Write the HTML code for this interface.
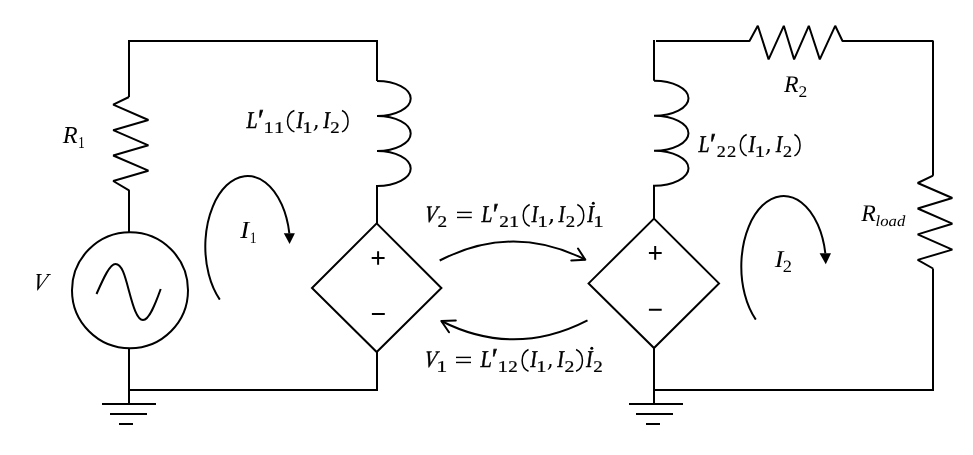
<!DOCTYPE html>
<html><head><meta charset="utf-8">
<style>
html,body{margin:0;padding:0;background:#fff;width:973px;height:455px;overflow:hidden}
svg{display:block;will-change:transform}
text{font-family:"Liberation Serif",serif;font-style:italic;fill:#000;text-rendering:geometricPrecision}
text.n{font-style:normal}
</style></head>
<body>
<svg width="973" height="455" viewBox="0 0 973 455" xmlns="http://www.w3.org/2000/svg">
<rect x="0" y="0" width="973" height="455" fill="#fff"/>
<g fill="none" stroke="#000" stroke-width="2" stroke-linejoin="miter">
<path d="M129,97 V41 H377 V81"/>
<path stroke-linejoin="bevel" d="M129,97 L113.2,104.7 L148.4,120 L113.2,130.2 L148.4,145.3 L113.2,155.5 L148.4,170.7 L113.2,181 L129,190.4 V232.3"/>
<circle cx="130" cy="290.3" r="58"/>
<path d="M129,348 V404"/>
<path d="M129,390 H377 V352"/>
<path d="M102,404 H156 M110,414 H147 M119,424 H133"/>
<path d="M377,81 A33.7,17.5 0 0 1 377,116 A33.7,17.5 0 0 1 377,151 A33.7,17.5 0 0 1 377,186 V223.4"/>
<path d="M376.7,223.4 L441.4,288 L376.7,352 L312,288 Z"/>
<path d="M371.7,258 H384.6 M378.1,251.2 V264.8 M371.9,314 H384.8"/>
<path d="M96.5,294 C104,277 110,264 115.5,264 C122,264 125,276 129,291 C133,306 137,320 143,320 C149,320 155,305 160.7,289"/>
<path d="M654,40 V80.8"/>
<path d="M654,80.8 A34.5,17.5 0 0 1 654,115.8 A34.5,17.5 0 0 1 654,150.8 A34.5,17.5 0 0 1 654,185.8 V218.6"/>
<path d="M654,218.6 L719,283.4 L654,348 L588.6,283.4 Z"/>
<path d="M654,348 V404 M654,390 H933 V268.5"/>
<path d="M629,404 H683 M636,414 H673 M646,424 H660"/>
<path stroke-linejoin="bevel" d="M656,41 H749.5 L757.8,25.8 L768.6,59.4 L783.8,25.8 L794.1,59.4 L808.8,25.8 L819.8,59.4 L835.2,25.8 L842.5,41 H933 V175.7"/>
<path stroke-linejoin="bevel" d="M933,175.7 L917.7,183 L952.3,198 L917.7,208.5 L952.3,223.7 L917.7,234.4 L952.3,249.6 L917.7,259.9 L933,268.5"/>
<path d="M648.9,253 H661.7 M655.2,246 V259.8 M648.9,309.7 H661.7"/>
<path d="M439.7,260.5 Q512.6,223 585.4,259.7"/>
<path stroke-linejoin="round" stroke-linecap="round" d="M578,248.5 L585.3,259.7 L571.3,260.4"/>
<path d="M587.5,320.3 Q514,358 441.3,321"/>
<path stroke-linejoin="round" stroke-linecap="round" d="M455.8,320.5 L441.3,321 L449,332.3"/>
<path d="M219.8,299.587 A42.4,70.5 0 1 1 289.350,233.3"/>
<path d="M755.8,319.587 A42.4,70.5 0 1 1 825.350,253.3"/>
</g>
<g fill="#000" stroke="none">
<path d="M283.8,233.3 L294.9,233.3 L289.6,243.9 Z"/>
<path d="M819.6,253.3 L831,253.3 L825.8,264.3 Z"/>
<text transform="matrix(0.9713 0 0.0000 0.9713 62.63 142.90)" font-size="25">R</text>
<text class="n" transform="matrix(0.5454 0 0.0000 0.6604 78.00 148.00)" font-size="25">1</text>
<text transform="matrix(0.8858 0 -0.2321 0.9732 31.44 289.53)" font-size="25">V</text>
<text transform="matrix(1.0769 0 0.0000 0.9835 240.21 238.00)" font-size="25">I</text>
<text class="n" transform="matrix(0.5454 0 0.0000 0.6423 249.70 243.00)" font-size="25">1</text>
<text transform="matrix(1.0518 0 0.0000 0.9652 774.80 266.80)" font-size="25">I</text>
<text class="n" transform="matrix(0.7384 0 0.0000 0.6887 782.69 271.80)" font-size="25">2</text>
<text transform="matrix(0.9530 0 0.0000 0.9530 783.93 91.90)" font-size="25">R</text>
<text class="n" transform="matrix(0.6985 0 0.0000 0.6464 798.43 96.90)" font-size="25">2</text>
<text transform="matrix(0.9530 0 0.0000 0.9530 861.13 221.00)" font-size="25">R</text>
<text transform="matrix(0.6670 0 0.0000 0.6135 875.61 225.64)" font-size="25">load</text>
<text stroke="#000" stroke-width="0.5" transform="matrix(0.7981 0 0.0000 0.9653 246.54 127.85)" font-size="25">L</text>
<text stroke="#000" stroke-width="0.5" transform="matrix(1.1380 0 0.0000 1.2153 256.19 130.23)" font-size="25">′</text>
<text class="n" stroke="#000" stroke-width="0.35" transform="matrix(0.8292 0 0.0000 0.6583 263.53 132.88)" font-size="25">1</text>
<text class="n" stroke="#000" stroke-width="0.35" transform="matrix(0.8183 0 0.0000 0.6583 273.95 132.88)" font-size="25">1</text>
<path fill="none" stroke="#000" stroke-width="1.5" d="M294.40,110.50 C288.58,112.91 287.55,116.72 287.55,121.20 C287.55,125.68 288.58,129.49 294.40,131.90"/>
<text stroke="#000" stroke-width="0.5" transform="matrix(0.7958 0 0.0000 0.9653 296.39 127.85)" font-size="25">I</text>
<text class="n" stroke="#000" stroke-width="0.35" transform="matrix(0.8183 0 0.0000 0.6583 302.15 132.88)" font-size="25">1</text>
<path d="M315.30,124.90 L317.50,124.90 C317.90,127.90 316.40,129.50 313.80,130.90 L313.60,130.30 C314.80,128.90 315.80,127.30 315.30,124.90 Z"/>
<text stroke="#000" stroke-width="0.5" transform="matrix(0.7958 0 0.0000 0.9653 323.29 127.85)" font-size="25">I</text>
<text class="n" stroke="#000" stroke-width="0.35" transform="matrix(0.7511 0 0.0000 0.6564 330.21 132.88)" font-size="25">2</text>
<path fill="none" stroke="#000" stroke-width="1.5" d="M342.00,110.50 C347.14,112.91 348.05,116.72 348.05,121.20 C348.05,125.68 347.14,129.49 342.00,131.90"/>
<text stroke="#000" stroke-width="0.5" transform="matrix(0.7981 0 0.0000 0.9653 698.54 151.85)" font-size="25">L</text>
<text stroke="#000" stroke-width="0.5" transform="matrix(1.1380 0 0.0000 1.2153 708.19 154.23)" font-size="25">′</text>
<text class="n" stroke="#000" stroke-width="0.35" transform="matrix(0.7222 0 0.0000 0.6564 716.64 156.88)" font-size="25">2</text>
<text class="n" stroke="#000" stroke-width="0.35" transform="matrix(0.7415 0 0.0000 0.6564 726.92 156.88)" font-size="25">2</text>
<path fill="none" stroke="#000" stroke-width="1.5" d="M746.70,134.50 C741.30,136.91 740.35,140.72 740.35,145.20 C740.35,149.68 741.30,153.49 746.70,155.90"/>
<text stroke="#000" stroke-width="0.5" transform="matrix(0.7958 0 0.0000 0.9653 748.39 151.85)" font-size="25">I</text>
<text class="n" stroke="#000" stroke-width="0.35" transform="matrix(0.8183 0 0.0000 0.6583 754.65 156.88)" font-size="25">1</text>
<path d="M767.50,148.90 L769.70,148.90 C770.10,151.90 768.60,153.50 766.00,154.90 L765.80,154.30 C767.00,152.90 768.00,151.30 767.50,148.90 Z"/>
<text stroke="#000" stroke-width="0.5" transform="matrix(0.7857 0 0.0000 0.9653 775.68 151.85)" font-size="25">I</text>
<text class="n" stroke="#000" stroke-width="0.35" transform="matrix(0.7222 0 0.0000 0.6564 782.94 156.88)" font-size="25">2</text>
<path fill="none" stroke="#000" stroke-width="1.5" d="M794.40,134.50 C799.20,136.91 800.05,140.72 800.05,145.20 C800.05,149.68 799.20,153.49 794.40,155.90"/>
<text stroke="#000" stroke-width="0.5" transform="matrix(0.7995 0 -0.1344 0.9442 423.66 221.50)" font-size="25">V</text>
<text class="n" stroke="#000" stroke-width="0.35" transform="matrix(0.7704 0 0.0000 0.6564 437.59 226.88)" font-size="25">2</text>
<rect x="457" y="211.7" width="14.80" height="1.4"/>
<rect x="457" y="216.75" width="14.80" height="1.4"/>
<text stroke="#000" stroke-width="0.5" transform="matrix(0.7833 0 0.0000 0.9653 481.43 221.85)" font-size="25">L</text>
<text stroke="#000" stroke-width="0.5" transform="matrix(1.1380 0 0.0000 1.2153 490.89 224.23)" font-size="25">′</text>
<text class="n" stroke="#000" stroke-width="0.35" transform="matrix(0.7704 0 0.0000 0.6564 499.29 226.88)" font-size="25">2</text>
<text class="n" stroke="#000" stroke-width="0.35" transform="matrix(0.8183 0 0.0000 0.6583 509.05 226.88)" font-size="25">1</text>
<path fill="none" stroke="#000" stroke-width="1.5" d="M529.70,204.50 C524.22,206.96 523.25,210.84 523.25,215.40 C523.25,219.96 524.22,223.84 529.70,226.30"/>
<text stroke="#000" stroke-width="0.5" transform="matrix(0.7756 0 0.0000 0.9653 531.38 221.85)" font-size="25">I</text>
<text class="n" stroke="#000" stroke-width="0.35" transform="matrix(0.8619 0 0.0000 0.6583 537.16 226.88)" font-size="25">1</text>
<path d="M550.50,218.90 L552.90,218.90 C553.30,221.90 551.80,223.50 549.00,224.90 L548.80,224.30 C550.00,222.90 551.00,221.30 550.50,218.90 Z"/>
<text stroke="#000" stroke-width="0.5" transform="matrix(0.7655 0 0.0000 0.9653 558.48 221.85)" font-size="25">I</text>
<text class="n" stroke="#000" stroke-width="0.35" transform="matrix(0.7511 0 0.0000 0.6564 565.71 226.88)" font-size="25">2</text>
<path fill="none" stroke="#000" stroke-width="1.5" d="M577.30,204.50 C582.78,206.96 583.75,210.84 583.75,215.40 C583.75,219.96 582.78,223.84 577.30,226.30"/>
<text stroke="#000" stroke-width="0.5" transform="matrix(0.8058 0 0.0000 0.9653 587.29 221.85)" font-size="25">I</text>
<circle cx="593.3" cy="203.3" r="1.5"/>
<text class="n" stroke="#000" stroke-width="0.35" transform="matrix(0.8401 0 0.0000 0.6583 593.31 226.88)" font-size="25">1</text>
<text stroke="#000" stroke-width="0.5" transform="matrix(0.7936 0 -0.1344 0.9442 423.57 366.50)" font-size="25">V</text>
<text class="n" stroke="#000" stroke-width="0.35" transform="matrix(0.8837 0 0.0000 0.6583 436.32 371.88)" font-size="25">1</text>
<rect x="456" y="356.7" width="15.00" height="1.4"/>
<rect x="456" y="361.75" width="15.00" height="1.4"/>
<text stroke="#000" stroke-width="0.5" transform="matrix(0.8128 0 0.0000 0.9653 480.55 366.85)" font-size="25">L</text>
<text stroke="#000" stroke-width="0.5" transform="matrix(1.1380 0 0.0000 1.2153 490.09 369.23)" font-size="25">′</text>
<text class="n" stroke="#000" stroke-width="0.35" transform="matrix(0.8401 0 0.0000 0.6583 497.61 371.88)" font-size="25">1</text>
<text class="n" stroke="#000" stroke-width="0.35" transform="matrix(0.7607 0 0.0000 0.6564 508.30 371.88)" font-size="25">2</text>
<path fill="none" stroke="#000" stroke-width="1.5" d="M528.50,349.50 C523.10,351.96 522.15,355.84 522.15,360.40 C522.15,364.96 523.10,368.84 528.50,371.30"/>
<text stroke="#000" stroke-width="0.5" transform="matrix(0.7857 0 0.0000 0.9653 530.28 366.85)" font-size="25">I</text>
<text class="n" stroke="#000" stroke-width="0.35" transform="matrix(0.8183 0 0.0000 0.6583 536.15 371.88)" font-size="25">1</text>
<path d="M549.40,363.90 L551.50,363.90 C551.90,366.90 550.40,368.50 547.90,369.90 L547.70,369.30 C548.90,367.90 549.90,366.30 549.40,363.90 Z"/>
<text stroke="#000" stroke-width="0.5" transform="matrix(0.7958 0 0.0000 0.9653 557.29 366.85)" font-size="25">I</text>
<text class="n" stroke="#000" stroke-width="0.35" transform="matrix(0.7896 0 0.0000 0.6564 564.38 371.88)" font-size="25">2</text>
<path fill="none" stroke="#000" stroke-width="1.5" d="M576.10,349.50 C581.50,351.96 582.45,355.84 582.45,360.40 C582.45,364.96 581.50,368.84 576.10,371.30"/>
<text stroke="#000" stroke-width="0.5" transform="matrix(0.7857 0 0.0000 0.9653 586.08 366.85)" font-size="25">I</text>
<circle cx="591.8" cy="348.3" r="1.5"/>
<text class="n" stroke="#000" stroke-width="0.35" transform="matrix(0.7607 0 0.0000 0.6564 593.30 371.88)" font-size="25">2</text>
</g>
</svg>
</body></html>
